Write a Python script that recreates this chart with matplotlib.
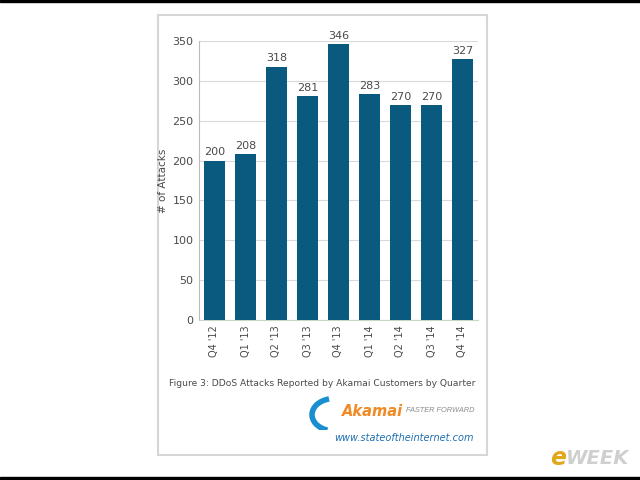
import matplotlib.pyplot as plt
from matplotlib.patches import Rectangle, Arc

quarters = ["Q4 '12", "Q1 '13", "Q2 '13", "Q3 '13", "Q4 '13", "Q1 '14", "Q2 '14", "Q3 '14", "Q4 '14"]
attacks = [200, 208, 318, 281, 346, 283, 270, 270, 327]
y_ticks = [0, 50, 100, 150, 200, 250, 300, 350]

bar_color = '#0a5a80'
text_grey = '#4a4a4a'

fig = plt.figure(figsize=(6.4, 4.8), dpi=100)
W, H = 640, 480

# black strips top and bottom
fig.patches.append(Rectangle((0, 1 - 2 / H), 1, 2 / H, transform=fig.transFigure, color='black', zorder=0))
fig.patches.append(Rectangle((0, 0), 1, 3 / H, transform=fig.transFigure, color='black', zorder=0))
# light panel frame
fig.patches.append(Rectangle((158 / W, 1 - 455 / H), (487 - 158) / W, (455 - 15) / H,
                             transform=fig.transFigure, facecolor='none', edgecolor='#d6d6d6',
                             linewidth=1.5, zorder=0))

ax = fig.add_axes([199 / W, 1 - 320 / H, (478 - 199) / W, (320 - 41) / H])
ax.set_zorder(2)
ax.set_facecolor('none')
x = range(len(quarters))
bars = ax.bar(x, attacks, width=0.68, color=bar_color, zorder=3)
for xi, v in zip(x, attacks):
    ax.text(xi, v + 4, str(v), ha='center', va='bottom', fontsize=8, color=text_grey)

ax.set_xlim(-0.5, len(quarters) - 0.5)
ax.set_ylim(0, 350)
ax.set_yticks(y_ticks)
ax.tick_params(axis='y', length=0, labelsize=8, labelcolor=text_grey, pad=4)
ax.set_xticks(list(x))
ax.set_xticklabels(quarters, rotation=90, fontsize=7, color=text_grey)
ax.tick_params(axis='x', length=0, pad=4)
ax.grid(axis='y', color='#d9d9d9', linewidth=0.8, zorder=0)
for s in ['top', 'right']:
    ax.spines[s].set_visible(False)
ax.spines['left'].set_color('#bbbbbb')
ax.spines['bottom'].set_color('#c8d6c8')
ax.set_ylabel('# of Attacks', fontsize=7.5, color=text_grey, labelpad=3)

fig.text(322 / W, 1 - 383 / H, 'Figure 3: DDoS Attacks Reported by Akamai Customers by Quarter',
         ha='center', va='center', fontsize=6.6, color=text_grey)

# Akamai logo
arc_ax = fig.add_axes([302 / W, 1 - 430 / H, 40 / W, 34 / H])
arc_ax.set_zorder(3)
arc_ax.axis('off')
arc_ax.set_xlim(0, 1)
arc_ax.set_ylim(0, 1)
arc_ax.add_patch(Arc((0.8, 0.45), 1.1, 0.95, theta1=105, theta2=250, color='#1a8fd0', linewidth=4))
fig.text(403 / W, 1 - 411 / H, 'Akamai', ha='right', va='center', fontsize=10.5,
         fontweight='bold', style='italic', color='#f08a24')
fig.text(474 / W, 1 - 411 / H, 'FASTER FORWARD', ha='right', va='center', fontsize=5.3,
         family='Liberation Sans', style='italic', color='#8a8a8a')
fig.text(474 / W, 1 - 438 / H, 'www.stateoftheinternet.com', ha='right', va='center', fontsize=7,
         style='italic', color='#1f6fb0')

# eWEEK mark
fig.text(550 / W, 1 - 458 / H, 'e', ha='left', va='center', fontsize=17, fontweight='bold',
         style='italic', color='#e0a81c')
fig.text(566 / W, 1 - 458 / H, 'WEEK', ha='left', va='center', fontsize=14, fontweight='bold',
         style='italic', color='#cfcfcf')

fig.savefig('out.png', dpi=100)
